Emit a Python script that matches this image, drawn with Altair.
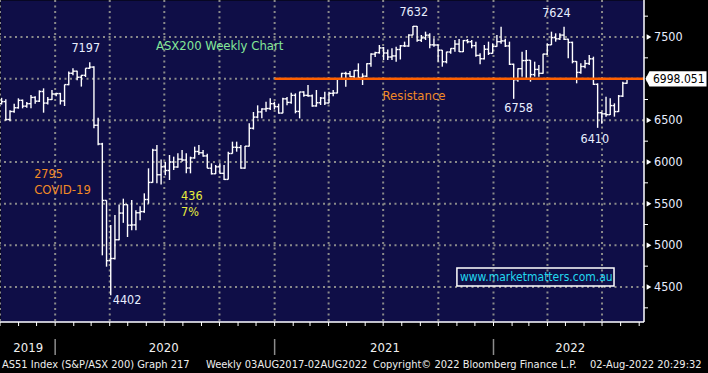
import altair as alt
import pandas as pd

# ---------------- weekly OHLC (week ending Fridays, first = 2019-09-27) ----------------
first_week = "2019-09-27"
opens = [
    6700, 6725, 6510, 6606, 6651, 6740, 6670, 6700, 6775, 6730, 6846, 6707, 6750, 6816,
    6821, 6733, 6929, 7065, 7090, 7017, 7040, 7125, 7139, 6441, 6216, 5539, 4816, 4842,
    5067, 5387, 5488, 5242, 5245, 5391, 5405, 5550, 5755, 6142, 5847, 5942, 5898, 6000,
    5940, 6034, 6024, 5928, 6049, 6126, 6111, 6073, 5925, 5859, 5942, 5864, 5791, 6102,
    6177, 6174, 5927, 6190, 6405, 6539, 6601, 6636, 6642, 6700,
    6664, 6587, 6758, 6715, 6800, 6607, 6840, 6800, 6794, 6673, 6711, 6767, 6708, 6824,
    6828, 6995, 7063, 7060, 7025, 7098, 7014, 7030, 7180, 7295, 7312, 7369, 7308, 7260,
    7273, 7350, 7394, 7392, 7523, 7628, 7461, 7489, 7522, 7406, 7404, 7342, 7203, 7320,
    7362, 7415, 7324, 7457, 7443, 7396, 7279, 7239, 7353, 7304, 7387,
    7444, 7453, 7393, 7173, 6988, 7120, 7217, 7221, 7049, 7111, 7064, 7295, 7406, 7493,
    7478, 7523, 7473, 7435, 7206, 7075, 7146, 7182, 7238, 6932, 6591, 6578, 6568, 6677,
    6605, 6791, 6945,
]
highs = [
    6770, 6752, 6620, 6700, 6764, 6750, 6720, 6804, 6790, 6860, 6884, 6780, 6864, 6830,
    6830, 6930, 7085, 7125, 7095, 7045, 7125, 7197, 7150, 6530, 6230, 5540, 5244, 5364,
    5490, 5560, 5490, 5544, 5420, 5470, 5624, 5924, 6160, 6204, 6030, 6000, 6084, 6064,
    6104, 6144, 6104, 6064, 6184, 6204, 6144, 6100, 5984, 5964, 5984, 5964, 6124, 6244,
    6244, 6204, 6192, 6464, 6600, 6680, 6644, 6724, 6764, 6724,
    6700, 6770, 6780, 6830, 6824, 6844, 6850, 6924, 6810, 6864, 6780, 6844, 6844, 6864,
    7000, 7070, 7084, 7092, 7104, 7184, 7064, 7184, 7304, 7324, 7404, 7380, 7350, 7364,
    7384, 7404, 7444, 7532, 7632, 7632, 7524, 7564, 7544, 7484, 7410, 7344, 7324, 7364,
    7464, 7476, 7464, 7476, 7464, 7444, 7304, 7404, 7444, 7424, 7524,
    7624, 7480, 7444, 7180, 7124, 7324, 7344, 7224, 7204, 7164, 7300, 7424, 7564, 7544,
    7544, 7624, 7480, 7444, 7210, 7184, 7224, 7284, 7264, 6944, 6604, 6784, 6764, 6704,
    6804, 6964, 7004,
]
lows = [
    6690, 6496, 6490, 6590, 6640, 6644, 6650, 6644, 6700, 6720, 6592, 6690, 6744, 6790,
    6690, 6672, 6920, 7040, 6980, 6905, 7020, 7120, 6404, 6200, 4880, 4744, 4402, 4830,
    5060, 5270, 5100, 5180, 5180, 5300, 5390, 5500, 5750, 5744, 5730, 5840, 5784, 5904,
    5930, 6004, 5864, 5864, 6040, 6084, 6064, 5924, 5850, 5855, 5860, 5785, 5790, 6100,
    6124, 5920, 5920, 6185, 6390, 6524, 6524, 6604, 6624, 6630,
    6580, 6584, 6680, 6700, 6584, 6524, 6784, 6784, 6664, 6664, 6684, 6684, 6704, 6790,
    6824, 6984, 6904, 7020, 7004, 6984, 6924, 7020, 7144, 7260, 7300, 7224, 7224, 7224,
    7204, 7230, 7380, 7384, 7520, 7444, 7440, 7464, 7364, 7384, 7204, 7144, 7184, 7300,
    7324, 7320, 7320, 7424, 7364, 7264, 7172, 7230, 7284, 7300, 7384,
    7420, 7380, 7164, 6758, 6964, 7024, 6984, 6964, 7024, 7024, 7060, 7284, 7404, 7444,
    7464, 7464, 7244, 7184, 6944, 7060, 7124, 7164, 6924, 6410, 6460, 6544, 6564, 6544,
    6600, 6780, 6940,
]
closes = [
    6725, 6510, 6606, 6651, 6740, 6670, 6700, 6775, 6730, 6846, 6707, 6750, 6816, 6821,
    6733, 6929, 7065, 7090, 7017, 7040, 7125, 7139, 6441, 6216, 5539, 4816, 4842, 5067,
    5387, 5488, 5242, 5245, 5391, 5405, 5550, 5755, 6142, 5847, 5942, 5898, 6000, 5940,
    6034, 6024, 5928, 6049, 6126, 6111, 6073, 5925, 5859, 5942, 5864, 5791, 6102, 6177,
    6174, 5927, 6190, 6405, 6539, 6601, 6636, 6642, 6700, 6664,
    6587, 6758, 6715, 6800, 6607, 6840, 6800, 6794, 6673, 6711, 6767, 6708, 6824, 6828,
    6995, 7063, 7060, 7025, 7098, 7014, 7030, 7180, 7295, 7312, 7369, 7308, 7260, 7273,
    7350, 7394, 7392, 7523, 7628, 7461, 7489, 7522, 7406, 7404, 7342, 7203, 7320, 7362,
    7415, 7324, 7457, 7443, 7396, 7279, 7239, 7353, 7304, 7387, 7444,
    7453, 7393, 7173, 6988, 7120, 7217, 7221, 7049, 7111, 7064, 7295, 7406, 7493, 7478,
    7523, 7473, 7435, 7206, 7075, 7146, 7182, 7238, 6932, 6591, 6578, 6568, 6677, 6605,
    6791, 6945, 6998,
]

# ---------------- axes / reference values ----------------
x_start, x_end = (2019, 10, 1), (2022, 9, 9)
y_min, y_max = 4080, 7944
y_major = [4500, 5000, 5500, 6000, 6500, 7000, 7500]
y_labelled = [4500, 5000, 5500, 6000, 6500, 7500]   # 7000 sits under the price tag
y_minor = [4250, 4750, 5250, 5750, 6250, 6750, 7250, 7750]
quarter_grid = ["2019-10-01", "2020-01-01", "2020-04-01", "2020-07-01", "2020-10-01",
                "2021-01-01", "2021-04-01", "2021-07-01", "2021-10-01",
                "2022-01-01", "2022-04-01", "2022-07-01"]
year_breaks = ["2020-01-01", "2021-01-01", "2022-01-01"]
year_labels = ["2019", "2020", "2021", "2022"]
year_label_dates = ["2019-11-17", "2020-06-30", "2021-07-04", "2022-05-09"]

resistance_level = 6998.051
resistance_from = "2021-01-01"
resistance_to = "2022-09-09"

# annotations: text, date, value
ann_center_text = ["7197", "7632", "7624", "6758", "6410"]
ann_center_date = ["2020-02-21", "2021-08-21", "2022-04-16", "2022-02-12", "2022-06-19"]
ann_center_value = [7368, 7796, 7784, 6648, 6280]

ann_left_text = ["ASX200 Weekly Chart", "Resistance", "2795", "COVID-19", "436", "7%", "4402"]
ann_left_date = ["2020-06-17", "2021-06-30", "2019-11-27", "2019-11-27", "2020-07-29",
                 "2020-07-29", "2020-04-06"]
ann_left_value = [7392, 6796, 5856, 5670, 5592, 5400, 4344]
ann_left_color = ["#84e899", "#f28a26", "#f28a26", "#f28a26", "#e8ee3c", "#e8ee3c", "#e8eeff"]
ann_left_size = [13, 13, 12.5, 13, 12.5, 12.5, 12.5]

site_text = "www.marketmatters.com.au"
site_box = {"d1": "2021-11-01", "d2": "2022-07-21", "v1": 4512, "v2": 4728,
            "dt": "2021-11-06", "vt": 4620}

footer_texts = ["AS51 Index (S&P/ASX 200) Graph 217", "Weekly 03AUG2017-02AUG2022",
                "Copyright\u00a9 2022 Bloomberg Finance L.P.", "02-Aug-2022 20:29:32"]
footer_x = [2, 206, 373, 590]

FONT = "DejaVu Sans Condensed"
NAVY = "#0f0e47"
GRID = "#8a8a8a"
W, H = 644, 322

# ---------------- data frames ----------------
weeks = pd.date_range(first_week, periods=len(closes), freq="7D")
bars = pd.DataFrame({"date": weeks.strftime("%Y-%m-%d"), "open": opens,
                     "high": highs, "low": lows, "close": closes})
month_starts = pd.date_range("2019-10-01", "2022-09-01", freq="MS").strftime("%Y-%m-%d")

x_scale = alt.Scale(type="utc", domain=[alt.DateTime(year=x_start[0], month=x_start[1], date=x_start[2], utc=True),
                                        alt.DateTime(year=x_end[0], month=x_end[1], date=x_end[2], utc=True)])
y_scale = alt.Scale(domain=[y_min, y_max], nice=False, zero=False)


def X(field):
    return alt.X(field, type="temporal", scale=x_scale, axis=None)


def Y(field):
    return alt.Y(field, type="quantitative", scale=y_scale, axis=None)


# ---------------- grid & axes (drawn as marks on the shared scales) ----------------
hgrid = alt.Chart(pd.DataFrame({"v": y_major})).mark_rule(
    color=GRID, strokeWidth=2, strokeDash=[2, 3.5]).encode(y=Y("v"))
vgrid = alt.Chart(pd.DataFrame({"d": quarter_grid})).mark_rule(
    color=GRID, strokeWidth=2, strokeDash=[2, 3.5]).encode(x=X("d"))
x_axis_line = alt.Chart(pd.DataFrame({"v": [y_min]})).mark_rule(color="white", strokeWidth=1.5).encode(
    y=Y("v"))
month_ticks = alt.Chart(pd.DataFrame({"d": month_starts})).mark_rule(color="white", strokeWidth=1).encode(
    x=X("d"), y=alt.value(H), y2=alt.value(H + 4))
y_axis_line = alt.Chart(pd.DataFrame({"d": [resistance_to]})).mark_rule(
    color="white", strokeWidth=1.5).encode(x=X("d"))
minor = alt.Chart(pd.DataFrame({"v": y_minor})).mark_rule(color="white", strokeWidth=1).encode(
    x=alt.value(W), x2=alt.value(W + 4), y=Y("v"))
tri = alt.Chart(pd.DataFrame({"v": y_major})).mark_point(
    shape="triangle-right", filled=True, color="white", size=30, opacity=1).encode(
    x=alt.value(W + 5), y=Y("v"))
y_labels = alt.Chart(pd.DataFrame({"v": y_labelled, "t": [str(v) for v in y_labelled]})).mark_text(
    align="left", baseline="middle", font=FONT, fontSize=12.5, color="#e8eeff").encode(
    x=alt.value(W + 10), y=Y("v"), text="t:N")

# ---------------- OHLC bars ----------------
bar_base = alt.Chart(bars)
hl = bar_base.mark_rule(color="white", strokeWidth=1.4, xOffset=4).encode(
    x=X("date"), y=Y("low"), y2="high")
open_tick = bar_base.mark_point(shape="M-1,0L0,0", size=16, filled=False, stroke="white",
                                strokeWidth=1.4, opacity=1, xOffset=4).encode(x=X("date"), y=Y("open"))
close_tick = bar_base.mark_point(shape="M0,0L1,0", size=16, filled=False, stroke="white",
                                 strokeWidth=1.4, opacity=1, xOffset=4).encode(x=X("date"), y=Y("close"))

# resistance line + price tag
res_df = pd.DataFrame({"d1": [resistance_from], "d2": [resistance_to], "v": [resistance_level],
                       "label": [f"{resistance_level:.3f}"]})
res_line = alt.Chart(res_df).mark_rule(color="#ff6000", strokeWidth=2.5).encode(
    x=X("d1"), x2="d2", y=Y("v"))
tag = alt.Chart(res_df).mark_point(
    shape="M-1,0L-0.87,-0.25L1,-0.25L1,0.25L-0.87,0.25Z", size=3721, filled=True,
    fill="white", strokeWidth=0, opacity=1).encode(x=alt.value(676), y=Y("v"))
tag_text = alt.Chart(res_df).mark_text(align="left", baseline="middle", font=FONT, fontSize=12,
                                       color="#000000").encode(x=alt.value(653), y=Y("v"), text="label:N")

# annotations
ann_c = alt.Chart(pd.DataFrame({"t": ann_center_text, "d": ann_center_date, "v": ann_center_value})
                  ).mark_text(align="center", baseline="middle", font=FONT, fontSize=12.5,
                              color="#e8eeff").encode(x=X("d"), y=Y("v"), text="t:N")
ann_l = alt.Chart(pd.DataFrame({"t": ann_left_text, "d": ann_left_date, "v": ann_left_value,
                                "c": ann_left_color, "s": ann_left_size})
                  ).mark_text(align="left", baseline="middle", font=FONT).encode(
    x=X("d"), y=Y("v"), text="t:N", color=alt.Color("c:N", scale=None),
    size=alt.Size("s:Q", scale=None))

site_df = pd.DataFrame({"d1": [site_box["d1"]], "d2": [site_box["d2"]], "v1": [site_box["v1"]],
                        "v2": [site_box["v2"]], "dt": [site_box["dt"]], "vt": [site_box["vt"]],
                        "t": [site_text]})
site_rect = alt.Chart(site_df).mark_rect(fillOpacity=0, stroke="white", strokeWidth=1.5).encode(
    x=X("d1"), x2="d2", y=Y("v1"), y2="v2")
site_txt = alt.Chart(site_df).mark_text(align="left", baseline="middle", font=FONT, fontSize=12,
                                        color="#22d8f0").encode(x=X("dt"), y=Y("vt"), text="t:N")

# bottom strip: year separators, year labels, footer
ysep = alt.Chart(pd.DataFrame({"d": year_breaks})).mark_rule(color="#8c8c8c", strokeWidth=1.5).encode(
    x=X("d"), y=alt.value(H + 17), y2=alt.value(H + 33))
ylab = alt.Chart(pd.DataFrame({"t": year_labels, "d": year_label_dates})).mark_text(
    align="center", baseline="middle", font=FONT, fontSize=13, color="#f0f0f0").encode(
    x=X("d"), y=alt.value(H + 26), text="t:N")
footers = [
    alt.Chart(pd.DataFrame({"t": [txt]})).mark_text(
        align="left", baseline="middle", font=FONT, fontSize=11, color="#eeeeee").encode(
        x=alt.value(fx), y=alt.value(H + 43), text="t:N")
    for txt, fx in zip(footer_texts, footer_x)
]

chart = alt.layer(
    hgrid, vgrid, hl, open_tick, close_tick, res_line,
    x_axis_line, month_ticks, y_axis_line, minor, tri, y_labels, tag, tag_text,
    ann_c, ann_l, site_rect, site_txt, ysep, ylab, *footers
).properties(
    width=W, height=H,
    padding={"left": 0, "top": 0, "right": 64, "bottom": 51},
    autosize=alt.AutoSizeParams(type="none"),
    background="#000000",
).configure_view(fill=NAVY, stroke="transparent")

chart.save("out.html", embed_options={"renderer": "svg", "actions": False})
